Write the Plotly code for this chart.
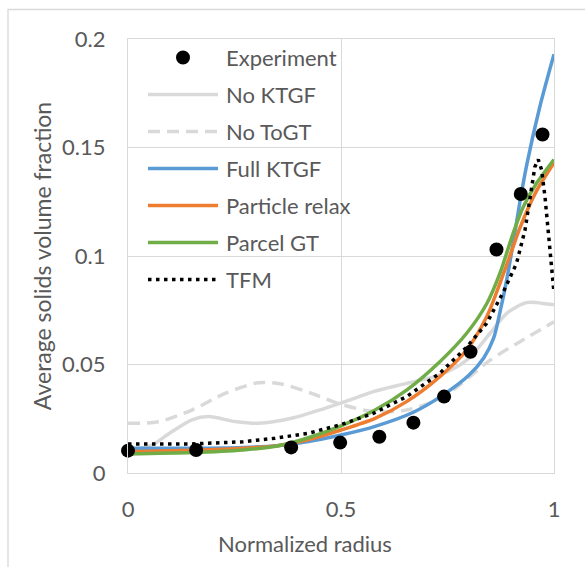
import plotly.graph_objects as go

# ---------------- data ----------------
exp_x = [0.0, 0.16, 0.383, 0.498, 0.59, 0.67, 0.742, 0.804, 0.865, 0.922, 0.973]
exp_y = [0.0103, 0.0106, 0.0118, 0.0140, 0.0167, 0.0232, 0.0352, 0.0559, 0.103, 0.1286, 0.156]

noktgf_x = [0.0, 0.056, 0.095, 0.15, 0.189, 0.251, 0.306, 0.384, 0.462, 0.533, 0.576,
            0.654, 0.732, 0.795, 0.85, 0.889, 0.936, 0.983, 1.0]
noktgf_y = [0.0105, 0.0129, 0.018, 0.0245, 0.026, 0.0237, 0.0229, 0.0252, 0.0298, 0.0345,
            0.0375, 0.0413, 0.0452, 0.052, 0.0644, 0.0736, 0.0785, 0.0779, 0.0775]

notogt_x = [0.0, 0.071, 0.15, 0.228, 0.306, 0.36, 0.431, 0.494, 0.576, 0.654, 0.73,
            0.779, 0.85, 0.92, 1.0]
notogt_y = [0.0229, 0.0236, 0.029, 0.0367, 0.0416, 0.041, 0.0367, 0.032, 0.0283, 0.029,
            0.034, 0.0406, 0.052, 0.0605, 0.0697]

full_x = [0.0, 0.15, 0.27, 0.35, 0.42, 0.5, 0.58, 0.67, 0.74, 0.8, 0.835, 0.858, 0.873,
          0.889, 0.905, 0.92, 0.936, 0.967, 1.0]
full_y = [0.0114, 0.0114, 0.0118, 0.0126, 0.0144, 0.0175, 0.0215, 0.028, 0.036, 0.045,
          0.053, 0.062, 0.074, 0.089, 0.107, 0.125, 0.142, 0.169, 0.193]

relax_x = [0.0, 0.15, 0.27, 0.35, 0.42, 0.5, 0.58, 0.654, 0.732, 0.795, 0.842, 0.873,
           0.9, 0.92, 0.959, 1.0]
relax_y = [0.0098, 0.0105, 0.0114, 0.0126, 0.0152, 0.0198, 0.0252, 0.0329, 0.0444, 0.0567,
           0.072, 0.0874, 0.102, 0.113, 0.130, 0.143]

parcel_x = [0.0, 0.15, 0.27, 0.35, 0.42, 0.5, 0.58, 0.654, 0.732, 0.795, 0.842, 0.873,
            0.905, 0.928, 0.959, 1.0]
parcel_y = [0.0088, 0.0094, 0.0106, 0.0124, 0.016, 0.0217, 0.029, 0.0382, 0.0513, 0.0644,
            0.078, 0.092, 0.111, 0.1227, 0.1335, 0.1445]

tfm_x = [0.0, 0.15, 0.27, 0.345, 0.423, 0.5, 0.576, 0.654, 0.732, 0.795, 0.842, 0.88,
         0.912, 0.932, 0.944, 0.955, 0.963, 0.971, 0.979, 0.987, 0.995, 1.0]
tfm_y = [0.0134, 0.0134, 0.0144, 0.016, 0.0183, 0.0223, 0.0275, 0.0352, 0.046, 0.058,
         0.069, 0.083, 0.0966, 0.112, 0.127, 0.141, 0.1445, 0.1396, 0.127, 0.109, 0.0935, 0.083]

x_ticks = [0, 0.5, 1]
x_tick_text = ["0", "0.5", "1"]
y_ticks = [0, 0.05, 0.1, 0.15, 0.2]
y_tick_text = ["0", "0.05", "0.1", "0.15", "0.2"]

series_names = ["Experiment", "No KTGF", "No ToGT", "Full KTGF", "Particle relax",
                "Parcel GT", "TFM"]
x_title = "Normalized radius"
y_title = "Average solids volume fraction"

# ---------------- styling ----------------
FONT = "Lato"
TXT = "#595959"
GRID = "#D9D9D9"
C_GRAY = "#D9D9D9"
C_BLUE = "#5B9BD5"
C_ORANGE = "#ED7D31"
C_GREEN = "#70AD47"
LW = 3.5
DASH_DASH = "12px,7px"
DASH_DOT = "3.5px,4.5px"

W, H = 585, 567
ML, MR, MT, MB = 128, 31, 39, 94
PW, PH = W - ML - MR, H - MT - MB

fig = go.Figure()

line_specs = [
    (noktgf_x, noktgf_y, series_names[1], C_GRAY, "solid", "spline"),
    (notogt_x, notogt_y, series_names[2], C_GRAY, DASH_DASH, "spline"),
    (full_x, full_y, series_names[3], C_BLUE, "solid", "spline"),
    (relax_x, relax_y, series_names[4], C_ORANGE, "solid", "spline"),
    (parcel_x, parcel_y, series_names[5], C_GREEN, "solid", "spline"),
    (tfm_x, tfm_y, series_names[6], "#000000", DASH_DOT, "linear"),
]
for xs, ys, nm, col, dash, shp in line_specs:
    fig.add_trace(go.Scatter(x=xs, y=ys, name=nm, mode="lines",
                             line=dict(color=col, width=LW, dash=dash, shape=shp,
                                       smoothing=0.8),
                             showlegend=False, hoverinfo="skip"))

fig.add_trace(go.Scatter(x=exp_x, y=exp_y, name=series_names[0], mode="markers",
                         marker=dict(color="#000000", size=14),
                         showlegend=False, cliponaxis=False))

# ---------------- custom legend (Excel-style long samples) ----------------
def px_to_paper_x(px):
    return (px - ML) / PW

def py_to_paper_y(py):
    return (H - MB - py) / PH

shapes = []
annotations = []
LEG_X0, LEG_X1, LEG_TX = 148, 218, 224
ROW0, ROW_STEP = 57.5, 37
legend_styles = [
    None,
    (C_GRAY, "solid"),
    (C_GRAY, DASH_DASH),
    (C_BLUE, "solid"),
    (C_ORANGE, "solid"),
    (C_GREEN, "solid"),
    ("#000000", DASH_DOT),
]
for i, nm in enumerate(series_names):
    yy = py_to_paper_y(ROW0 + i * ROW_STEP)
    if legend_styles[i] is None:
        xc = px_to_paper_x((LEG_X0 + LEG_X1) / 2)
        shapes.append(dict(type="circle", xref="paper", yref="paper",
                           xsizemode="pixel", ysizemode="pixel",
                           xanchor=xc, yanchor=yy, x0=-7, x1=7, y0=-7, y1=7,
                           fillcolor="#000000", line=dict(color="#000000", width=0)))
    else:
        col, dash = legend_styles[i]
        shapes.append(dict(type="line", xref="paper", yref="paper",
                           x0=px_to_paper_x(LEG_X0), x1=px_to_paper_x(LEG_X1),
                           y0=yy, y1=yy, line=dict(color=col, width=LW, dash=dash)))
    annotations.append(dict(text=nm, xref="paper", yref="paper",
                            x=px_to_paper_x(LEG_TX), y=yy, xanchor="left",
                            yanchor="middle", showarrow=False,
                            font=dict(family=FONT, size=22, color=TXT)))

# x-axis title centred on the chart area (Excel style), not on the plot area
annotations.append(dict(text=x_title, xref="paper", yref="paper",
                        x=px_to_paper_x(305), y=py_to_paper_y(543),
                        xanchor="center", yanchor="middle", showarrow=False,
                        font=dict(family=FONT, size=22, color=TXT)))

# chart-area border (top and left visible in the reference)
shapes.append(dict(type="rect", xref="paper", yref="paper", layer="below",
                   x0=px_to_paper_x(8), x1=px_to_paper_x(W + 20),
                   y0=py_to_paper_y(H + 20), y1=py_to_paper_y(9.5),
                   line=dict(color=GRID, width=1.3), fillcolor="rgba(0,0,0,0)"))

fig.update_layout(
    width=W, height=H,
    margin=dict(l=ML, r=MR, t=MT, b=MB, pad=0),
    paper_bgcolor="white", plot_bgcolor="white",
    font=dict(family=FONT, size=22, color=TXT),
    showlegend=False,
    shapes=shapes, annotations=annotations,
    xaxis=dict(range=[0, 1], tickvals=x_ticks, ticktext=x_tick_text,
               showgrid=True, gridcolor=GRID, gridwidth=1.3,
               showline=True, linecolor=GRID, linewidth=1.3, mirror=True,
               zeroline=False, ticks="", ticklabelstandoff=16,
               tickfont=dict(family=FONT, size=22, color=TXT)),
    yaxis=dict(range=[0, 0.2], tickvals=y_ticks, ticktext=y_tick_text,
               showgrid=True, gridcolor=GRID, gridwidth=1.3,
               showline=True, linecolor=GRID, linewidth=1.3, mirror=True,
               zeroline=False, ticks="", ticklabelstandoff=17,
               title=dict(text=y_title, standoff=3,
                          font=dict(family=FONT, size=23, color=TXT)),
               tickfont=dict(family=FONT, size=22, color=TXT)),
)

fig.write_html("out.html")
